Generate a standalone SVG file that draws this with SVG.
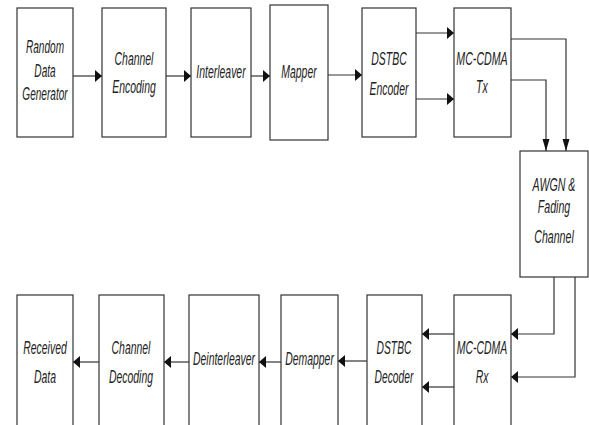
<svg xmlns="http://www.w3.org/2000/svg" width="589" height="425" viewBox="0 0 589 425">
<style>
rect{fill:#fff;stroke:#333;stroke-width:1.2}
text{font-family:"Liberation Sans",Arial,sans-serif;font-style:italic;font-size:18px;fill:#222;text-anchor:middle}
.c{fill:none;stroke:#333;stroke-width:1.2}
</style>
<defs>
<marker id="ah" markerUnits="userSpaceOnUse" markerWidth="8" markerHeight="13" refX="7" refY="6" orient="auto"><path d="M0,0 L7,6 L0,12 z" fill="#111"/></marker>
<marker id="av" markerUnits="userSpaceOnUse" markerWidth="13" markerHeight="8" refX="12" refY="3.5" orient="auto"><path d="M0,0 L12,3.5 L0,7 z" fill="#111"/></marker>
</defs>
<rect x="0" y="0" width="589" height="425" style="fill:#fff;stroke:none"/>
<g id="connectors">
<path class="c" d="M73,76 H102" marker-end="url(#ah)"/>
<path class="c" d="M166,76 H191" marker-end="url(#ah)"/>
<path class="c" d="M251,76 H270" marker-end="url(#ah)"/>
<path class="c" d="M328,75 H362" marker-end="url(#ah)"/>
<path class="c" d="M416,33 H454" marker-end="url(#ah)"/>
<path class="c" d="M416,99 H454" marker-end="url(#ah)"/>
<path class="c" d="M511,39 H566 V151" marker-end="url(#av)"/>
<path class="c" d="M511,80 H546 V151" marker-end="url(#av)"/>
<path class="c" d="M554,277 V334 H511" marker-end="url(#ah)"/>
<path class="c" d="M575,277 V377 H511" marker-end="url(#ah)"/>
<path class="c" d="M454,334 H422" marker-end="url(#ah)"/>
<path class="c" d="M454,387 H422" marker-end="url(#ah)"/>
<path class="c" d="M367,361 H338" marker-end="url(#ah)"/>
<path class="c" d="M281,362 H259" marker-end="url(#ah)"/>
<path class="c" d="M189,362 H164" marker-end="url(#ah)"/>
<path class="c" d="M99,362 H73" marker-end="url(#ah)"/>
</g>
<g id="random-data-generator"><rect x="17" y="8" width="56" height="129"/>
<g transform="translate(45,0) scale(0.56,1)"><text y="53">Random</text><text y="77">Data</text><text y="100">Generator</text></g></g>
<g id="channel-encoding"><rect x="102" y="8" width="64" height="129"/>
<g transform="translate(134,0) scale(0.58,1)"><text y="65">Channel</text><text y="93">Encoding</text></g></g>
<g id="interleaver"><rect x="191" y="8" width="60" height="129"/>
<g transform="translate(221,0) scale(0.58,1)"><text y="78">Interleaver</text></g></g>
<g id="mapper"><rect x="270" y="5" width="58" height="135"/>
<g transform="translate(299,0) scale(0.58,1)"><text y="78">Mapper</text></g></g>
<g id="dstbc-encoder"><rect x="362" y="8" width="54" height="129"/>
<g transform="translate(389,0) scale(0.58,1)"><text y="65">DSTBC</text><text y="95">Encoder</text></g></g>
<g id="mc-cdma-tx"><rect x="454" y="8" width="57" height="129"/>
<g transform="translate(482,0) scale(0.59,1)"><text y="65">MC-CDMA</text><text y="93">Tx</text></g></g>
<g id="awgn-channel"><rect x="520" y="151" width="68" height="126"/>
<g transform="translate(554,0) scale(0.59,1)"><text y="191">AWGN &amp;</text><text y="213">Fading</text><text y="243">Channel</text></g></g>
<g id="received-data"><rect x="17" y="295" width="56" height="140"/>
<g transform="translate(45,0) scale(0.58,1)"><text y="354">Received</text><text y="383">Data</text></g></g>
<g id="channel-decoding"><rect x="99" y="295" width="65" height="140"/>
<g transform="translate(131,0) scale(0.58,1)"><text y="354">Channel</text><text y="383">Decoding</text></g></g>
<g id="deinterleaver"><rect x="189" y="295" width="70" height="140"/>
<g transform="translate(224,0) scale(0.58,1)"><text y="365">Deinterleaver</text></g></g>
<g id="demapper"><rect x="281" y="295" width="57" height="140"/>
<g transform="translate(309.5,0) scale(0.58,1)"><text y="365">Demapper</text></g></g>
<g id="dstbc-decoder"><rect x="367" y="295" width="55" height="140"/>
<g transform="translate(394,0) scale(0.57,1)"><text y="354">DSTBC</text><text y="383">Decoder</text></g></g>
<g id="mc-cdma-rx"><rect x="454" y="295" width="57" height="140"/>
<g transform="translate(482,0) scale(0.58,1)"><text y="354">MC-CDMA</text><text y="383">Rx</text></g></g>
</svg>
